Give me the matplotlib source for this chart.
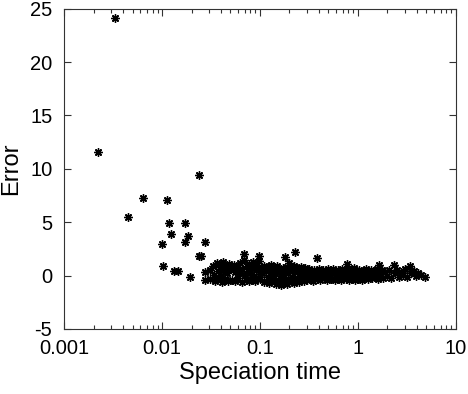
import numpy as np
import matplotlib.pyplot as plt
from matplotlib.ticker import LogLocator, FixedLocator, NullFormatter

plt.rcParams["font.family"] = ["Liberation Sans", "DejaVu Sans"]

# scattered points at short speciation times
x_sparse = [0.00331, 0.00222, 0.00453, 0.00644, 0.01124, 0.02405, 0.01179, 0.0173,
            0.0123, 0.0186, 0.00991, 0.0173, 0.0272, 0.024, 0.0252, 0.0103,
            0.0134, 0.0145, 0.0193, 0.0272, 0.0272]
y_sparse = [24.1, 11.6, 5.5, 7.3, 7.1, 9.4, 4.9, 4.95,
            3.9, 3.7, 2.96, 3.15, 3.15, 1.84, 1.84, 0.93,
            0.47, 0.4, -0.1, 0.35, -0.4]

# 0.03 - 0.1
x_a = [0.031, 0.031, 0.033, 0.034, 0.035, 0.036, 0.037, 0.038, 0.039, 0.040,
       0.041, 0.042, 0.043, 0.044, 0.045, 0.046, 0.047, 0.048, 0.050, 0.052,
       0.054, 0.055, 0.056, 0.058, 0.060, 0.062, 0.063, 0.065, 0.066, 0.068,
       0.069, 0.070, 0.072, 0.073, 0.075, 0.077, 0.078, 0.080, 0.082, 0.083,
       0.085, 0.087, 0.089, 0.091, 0.093, 0.095, 0.097, 0.098, 0.099]
y_a = [0.5, -0.3, 0.9, 0.1, -0.5, 1.2, 0.4, -0.2, 0.8, 0.0,
       -0.6, 1.3, 0.5, -0.3, 0.9, 0.2, -0.5, 1.1, 0.6, -0.4,
       1.0, 0.3, -0.5, 0.7, -0.2, 1.2, 0.2, -0.6, 0.6, 2.0,
       1.5, 0.1, -0.4, 0.9, 0.4, -0.5, 1.1, 0.2, -0.3, 0.7,
       1.3, 0.0, -0.5, 0.5, 1.0, -0.2, 1.4, 1.8, 0.3]

# 0.1 - 0.3
x_b = [0.10, 0.10, 0.105, 0.11, 0.11, 0.115, 0.12, 0.12, 0.125, 0.13,
       0.13, 0.135, 0.14, 0.14, 0.145, 0.15, 0.15, 0.155, 0.16, 0.16,
       0.165, 0.17, 0.17, 0.175, 0.18, 0.18, 0.185, 0.19, 0.19, 0.195,
       0.20, 0.20, 0.21, 0.21, 0.22, 0.22, 0.23, 0.23, 0.24, 0.24,
       0.25, 0.25, 0.26, 0.26, 0.27, 0.27, 0.28, 0.28, 0.29, 0.29]
y_b = [0.6, -0.3, 0.2, 0.9, -0.6, 0.4, -0.1, 0.8, -0.7, 0.3,
       1.0, -0.4, 0.6, 0.0, -0.8, 0.9, 0.3, -0.5, 0.5, -0.2,
       -0.85, 0.7, 0.1, -0.6, 1.75, 0.4, -0.3, 0.8, -0.8, 0.2,
       1.2, -0.5, 0.5, -0.1, 0.9, -0.7, 2.2, 0.3, -0.4, 0.6,
       0.0, -0.6, 0.8, 0.2, -0.3, 0.5, -0.5, 0.1, 0.7, -0.2]

# 0.3 - 1
x_c = [0.30, 0.30, 0.31, 0.32, 0.33, 0.34, 0.35, 0.36, 0.37, 0.38,
       0.38, 0.39, 0.40, 0.41, 0.42, 0.44, 0.45, 0.46, 0.48, 0.49,
       0.50, 0.52, 0.53, 0.55, 0.56, 0.58, 0.60, 0.62, 0.63, 0.65,
       0.67, 0.69, 0.71, 0.73, 0.75, 0.77, 0.78, 0.80, 0.82, 0.84,
       0.86, 0.88, 0.90, 0.92, 0.94, 0.96, 0.98]
y_c = [0.4, -0.4, 0.0, 0.6, -0.3, 0.2, -0.5, 0.5, 0.0, 1.65,
       -0.3, 0.3, 0.6, -0.4, 0.1, 0.5, -0.2, 0.3, -0.4, 0.6,
       0.0, 0.4, -0.3, 0.2, 0.6, -0.4, 0.1, 0.5, -0.2, 0.3,
       -0.4, 0.6, 0.0, 0.4, -0.3, 1.1, 0.2, 0.6, -0.4, 0.1,
       0.5, -0.2, 0.3, 0.7, -0.4, 0.0, 0.4]

# 1 - 5
x_d = [1.0, 1.03, 1.07, 1.1, 1.14, 1.18, 1.22, 1.26, 1.3, 1.35,
       1.4, 1.45, 1.5, 1.55, 1.6, 1.65, 1.7, 1.75, 1.8, 1.9,
       2.0, 2.1, 2.2, 2.34, 2.4, 2.5, 2.6, 2.75, 2.9, 3.0,
       3.2, 3.4, 3.5, 3.7, 3.9, 4.15, 4.4, 4.87]
y_d = [-0.3, 0.5, 0.1, -0.4, 0.4, 0.0, 0.6, -0.3, 0.2, 0.5,
       -0.2, 0.3, 0.0, 0.6, -0.3, 1.0, 0.2, 0.5, -0.2, 0.3,
       0.0, 0.5, -0.2, 1.0, 0.2, 0.5, -0.1, 0.3, 0.1, 0.6,
       -0.1, 0.87, 0.2, 0.4, 0.0, 0.25, 0.1, -0.12]

x_ticks = [0.001, 0.01, 0.1, 1, 10]
x_labels = ["0.001", "0.01", "0.1", "1", "10"]
y_ticks = [-5, 0, 5, 10, 15, 20, 25]

fig = plt.figure(figsize=(4.68, 3.94), dpi=100)
ax = fig.add_axes([0.137, 0.165, 0.837, 0.813])

xs = x_sparse + x_a + x_b + x_c + x_d
ys = y_sparse + y_a + y_b + y_c + y_d
ax.plot(xs, ys, linestyle="none", marker=(8, 2, 0), markersize=6,
        markeredgewidth=1.0, color="black")

ax.set_xscale("log")
ax.set_xlim(0.001, 10)
ax.set_ylim(-5, 25)
ax.xaxis.set_major_locator(FixedLocator(x_ticks))
ax.set_xticklabels(x_labels)
ax.xaxis.set_minor_locator(LogLocator(base=10, subs=np.arange(2, 10)))
ax.xaxis.set_minor_formatter(NullFormatter())
ax.set_yticks(y_ticks)
ax.set_yticklabels([str(v) for v in y_ticks])

ax.tick_params(which="both", direction="in", top=True, right=True, labelsize=14.5,
               color="#333333", width=0.8)
ax.tick_params(which="major", length=5)
ax.tick_params(which="minor", length=3)
ax.tick_params(axis="x", pad=7)
ax.tick_params(axis="y", pad=8.5)
for s in ax.spines.values():
    s.set_color("#333333")
    s.set_linewidth(0.8)

ax.set_xlabel("Speciation time", fontsize=17, labelpad=3)
ax.set_ylabel("Error", fontsize=17, labelpad=6)

fig.savefig("out.png", dpi=100)
